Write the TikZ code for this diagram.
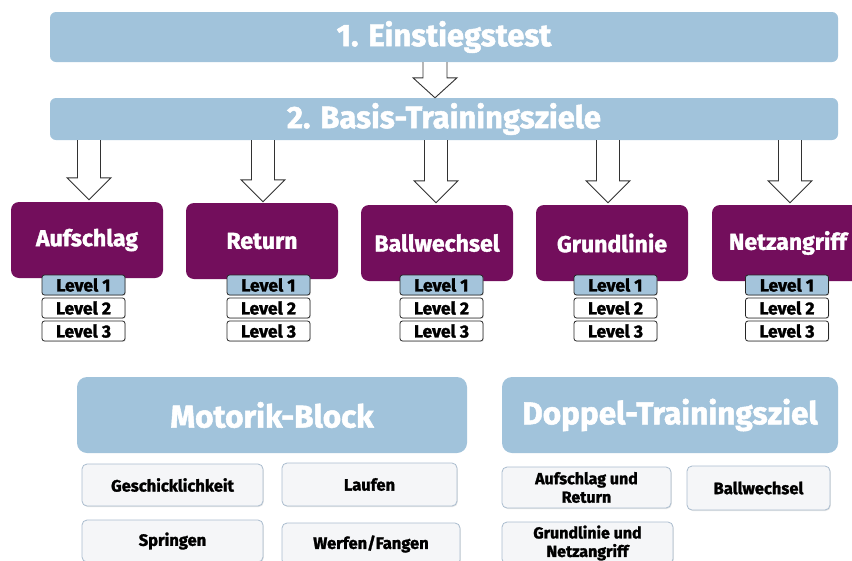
\documentclass[tikz,border=0pt]{standalone}
\usepackage{fontspec}
\setmainfont{Fira Sans}[BoldFeatures={FakeBold=1.6}]
\usetikzlibrary{calc,shadows}
\definecolor{barblue}{RGB}{161,195,219}
\definecolor{plum}{RGB}{115,14,92}
\definecolor{lvlblue}{RGB}{164,196,219}
\definecolor{boxfill}{RGB}{245,246,248}
\definecolor{boxline}{RGB}{170,188,206}
\definecolor{arrowgray}{RGB}{50,50,50}
\tikzset{
  bar/.style={fill=barblue, rounded corners=6pt, inner sep=0pt, text=white, font=\bfseries\fontsize{31}{32}\selectfont},
  goal/.style={fill=plum, rounded corners=8pt, minimum width=152pt, minimum height=76pt, inner sep=0pt, text=white, font=\bfseries\fontsize{23}{24}\selectfont},
  lvl/.style={draw=black!85, line width=0.8pt, fill=white, rounded corners=2.5pt, minimum width=83pt, minimum height=20pt, inner sep=0pt, font=\bfseries\fontsize{17.5}{18}\selectfont, drop shadow={shadow xshift=0.8pt, shadow yshift=-0.8pt, opacity=0.25}},
  lvlone/.style={lvl, fill=lvlblue},
  block/.style={fill=barblue, rounded corners=10pt, inner sep=0pt, minimum height=76pt, text=white, font=\bfseries\fontsize{31.5}{33}\selectfont},
  item/.style={draw=boxline, line width=0.8pt, fill=boxfill, rounded corners=5pt, inner sep=0pt, align=center, font=\bfseries\fontsize{16.5}{17}\selectfont, drop shadow={shadow xshift=0.8pt, shadow yshift=-1pt, opacity=0.2}},
  twoline/.style={font=\bfseries\fontsize{16}{18.5}\selectfont},
  hollow/.style={draw=arrowgray, line width=0.9pt, fill=white, line join=miter}
}
\newcommand{\blockarrow}[4]{% start, tip, shaft half width, head length
  \draw[hollow] let \p1=(#1), \p2=(#2) in
    (\x1-#3,\y1) -- (\x1-#3,\y2+#4) -- (\x1-22pt,\y2+#4) -- (\x2,\y2)
    -- (\x1+22pt,\y2+#4) -- (\x1+#3,\y2+#4) -- (\x1+#3,\y1);
}
\begin{document}
\begin{tikzpicture}[x=1pt,y=-1pt]
\useasboundingbox (0,0) rectangle (852,560);
\clip (0,0) rectangle (852,560);
% top bars
\node[bar, minimum width=788pt, minimum height=50pt] (bar1) at (444,37) {\raisebox{-2pt}{1. Einstiegstest}};
\node[bar, minimum width=788pt, minimum height=42pt] (bar2) at (444,119) {\raisebox{-2pt}{2. Basis-Trainingsziele}};
% goals
\node[goal] (aufs) at (87,240) {\raisebox{-2pt}{Aufschlag}};
\node[goal] (ret) at (262,241) {\raisebox{-2pt}{Return}};
\node[goal] (ball) at (437,243) {Ballwechsel};
\node[goal] (grund) at (612,243) {\raisebox{-1pt}{Grundlinie}};
\node[goal] (netz) at (788,243) {\raisebox{-1pt}{Netzangriff}};
% levels
\foreach \n/\x in {aufs/83.5, ret/268.5, ball/441.5, grund/615.5, netz/787}{
  \node[lvlone] (\n-l1) at (\x,285) {Level 1};
  \node[lvl] (\n-l2) at (\x,308) {Level 2};
  \node[lvl] (\n-l3) at (\x,331) {Level 3};
}
% arrows
\coordinate (t0) at ($(bar2.north)+(-9,0)$);
\blockarrow{bar1.south -| t0}{t0}{12pt}{20pt}
\coordinate (t1) at ($(aufs.north)+(2,-2)$);
\coordinate (t2) at ($(ret.north)+(1,-1)$);
\coordinate (t3) at ($(ball.north)+(-1,-2)$);
\coordinate (t4) at ($(grund.north)+(-4,-2)$);
\coordinate (t5) at ($(netz.north)+(2,-2)$);
\foreach \t in {t1,t2,t3,t4,t5}{
  \blockarrow{bar2.south -| \t}{\t}{11.5pt}{22pt}
}
% bottom blocks
\node[block, minimum width=390pt] (motor) at (272,415) {Motorik-Block};
\node[block, minimum width=336pt] (doppel) at (670,415) {Doppel-Trainingsziel};
\node[item, minimum width=181pt, minimum height=42pt] (gesch) at (172.5,485) {Geschicklichkeit};
\node[item, minimum width=175pt, minimum height=43pt] (lauf) at (369.5,484.5) {Laufen};
\node[item, minimum width=181pt, minimum height=42pt] (spring) at (172.5,541) {Springen};
\node[item, minimum width=178pt, minimum height=42pt] (werf) at (371,544) {Werfen/Fangen};
\node[item, twoline, minimum width=169pt, minimum height=41pt] (aur) at (586.5,487.5) {Aufschlag und\\Return};
\node[item, minimum width=143pt, minimum height=44pt] (dball) at (758.5,488) {Ballwechsel};
\node[item, twoline, minimum width=171pt, minimum height=42pt] (gun) at (587.5,543) {Grundlinie und\\Netzangriff};
\end{tikzpicture}
\end{document}
